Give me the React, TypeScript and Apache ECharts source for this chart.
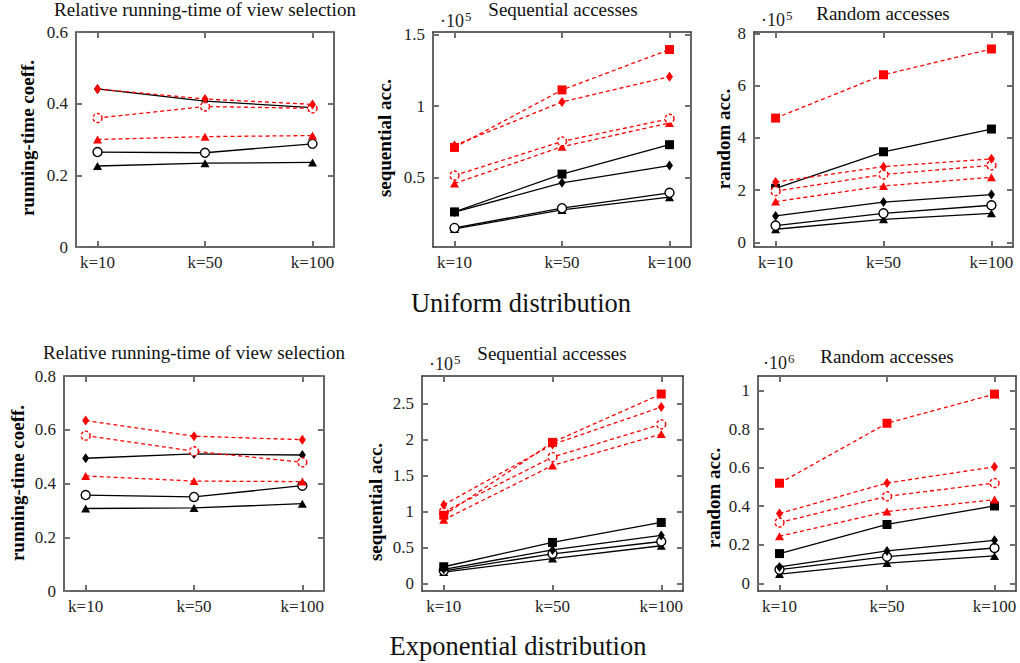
import React, { useEffect, useRef } from 'react';
import * as echarts from 'echarts';

const categories = ['k=10', 'k=50', 'k=100'];

// Uniform distribution – relative running time
const uRunBlackDiamond = [0.441, 0.407, 0.389];
const uRunBlackCircle = [0.265, 0.263, 0.288];
const uRunBlackTriangle = [0.226, 0.234, 0.236];
const uRunRedDiamond = [0.441, 0.413, 0.398];
const uRunRedCircle = [0.36, 0.392, 0.387];
const uRunRedTriangle = [0.3, 0.308, 0.311];
const uRunTicks = [0, 0.2, 0.4, 0.6];

// Uniform distribution – sequential accesses (x10^5)
const uSeqBlackSquare = [0.259, 0.524, 0.73];
const uSeqBlackDiamond = [0.257, 0.463, 0.584];
const uSeqBlackCircle = [0.147, 0.285, 0.393];
const uSeqBlackTriangle = [0.14, 0.273, 0.362];
const uSeqRedSquare = [0.711, 1.114, 1.397];
const uSeqRedDiamond = [0.725, 1.03, 1.207];
const uSeqRedCircle = [0.514, 0.753, 0.912];
const uSeqRedTriangle = [0.458, 0.716, 0.882];
const uSeqTicks = [0.5, 1, 1.5];

// Uniform distribution – random accesses (x10^5)
const uRndBlackSquare = [2.07, 3.47, 4.34];
const uRndBlackDiamond = [1.01, 1.54, 1.83];
const uRndBlackCircle = [0.64, 1.11, 1.42];
const uRndBlackTriangle = [0.5, 0.88, 1.11];
const uRndRedSquare = [4.76, 6.42, 7.41];
const uRndRedDiamond = [2.31, 2.9, 3.2];
const uRndRedCircle = [1.96, 2.6, 2.95];
const uRndRedTriangle = [1.56, 2.16, 2.49];
const uRndTicks = [0, 2, 4, 6, 8];

// Exponential distribution – relative running time
const eRunBlackDiamond = [0.494, 0.51, 0.506];
const eRunBlackCircle = [0.357, 0.35, 0.392];
const eRunBlackTriangle = [0.307, 0.309, 0.325];
const eRunRedDiamond = [0.634, 0.576, 0.563];
const eRunRedCircle = [0.578, 0.52, 0.479];
const eRunRedTriangle = [0.428, 0.409, 0.407];
const eRunTicks = [0, 0.2, 0.4, 0.6, 0.8];

// Exponential distribution – sequential accesses (x10^5)
const eSeqBlackSquare = [0.236, 0.573, 0.85];
const eSeqBlackDiamond = [0.2, 0.47, 0.67];
const eSeqBlackCircle = [0.18, 0.416, 0.586];
const eSeqBlackTriangle = [0.162, 0.35, 0.527];
const eSeqRedSquare = [0.95, 1.96, 2.63];
const eSeqRedDiamond = [1.095, 1.93, 2.45];
const eSeqRedCircle = [0.995, 1.756, 2.21];
const eSeqRedTriangle = [0.887, 1.64, 2.075];
const eSeqTicks = [0, 0.5, 1, 1.5, 2, 2.5];

// Exponential distribution – random accesses (x10^6)
const eRndBlackSquare = [0.154, 0.305, 0.401];
const eRndBlackDiamond = [0.085, 0.168, 0.223];
const eRndBlackCircle = [0.071, 0.138, 0.183];
const eRndBlackTriangle = [0.048, 0.105, 0.142];
const eRndRedSquare = [0.519, 0.83, 0.981];
const eRndRedDiamond = [0.362, 0.52, 0.604];
const eRndRedCircle = [0.315, 0.451, 0.52];
const eRndRedTriangle = [0.244, 0.372, 0.434];
const eRndTicks = [0, 0.2, 0.4, 0.6, 0.8, 1];

const FONT = 'Liberation Serif';
const RED = '#ff0000';
const BLACK = '#000000';

type SeriesDef = { values: number[]; shape: 'square' | 'diamond' | 'circle' | 'triangle'; red: boolean };

type Panel = {
  grid: { left: number; top: number; width: number; height: number };
  yMin: number;
  yMax: number;
  ticks: number[];
  title: string;
  titleX: number;
  titleY: number;
  yName: string;
  yNameX: number;
  yNameY: number;
  exp?: string;
  expX?: number;
  expY?: number;
  series: SeriesDef[];
};

const sd = (values: number[], shape: SeriesDef['shape'], red: boolean): SeriesDef => ({ values, shape, red });

const panels: Panel[] = [
  {
    grid: { left: 76, top: 32, width: 258, height: 215 },
    yMin: 0, yMax: 0.6, ticks: uRunTicks,
    title: 'Relative running-time of view selection', titleX: 205, titleY: 9,
    yName: 'running-time coeff.', yNameX: 27, yNameY: 138,
    series: [
      sd(uRunBlackTriangle, 'triangle', false), sd(uRunBlackCircle, 'circle', false), sd(uRunBlackDiamond, 'diamond', false),
      sd(uRunRedTriangle, 'triangle', true), sd(uRunRedCircle, 'circle', true), sd(uRunRedDiamond, 'diamond', true),
    ],
  },
  {
    grid: { left: 433, top: 32, width: 258, height: 215 },
    yMin: 0.013, yMax: 1.52, ticks: uSeqTicks,
    title: 'Sequential accesses', titleX: 563, titleY: 9,
    yName: 'sequential acc.', yNameX: 384, yNameY: 138,
    exp: '5', expX: 440, expY: 20,
    series: [
      sd(uSeqBlackTriangle, 'triangle', false), sd(uSeqBlackCircle, 'circle', false), sd(uSeqBlackDiamond, 'diamond', false), sd(uSeqBlackSquare, 'square', false),
      sd(uSeqRedTriangle, 'triangle', true), sd(uSeqRedCircle, 'circle', true), sd(uSeqRedDiamond, 'diamond', true), sd(uSeqRedSquare, 'square', true),
    ],
  },
  {
    grid: { left: 754, top: 32, width: 259, height: 215 },
    yMin: -0.18, yMax: 8.06, ticks: uRndTicks,
    title: 'Random accesses', titleX: 883, titleY: 13,
    yName: 'random acc.', yNameX: 723, yNameY: 139,
    exp: '5', expX: 761, expY: 19,
    series: [
      sd(uRndBlackTriangle, 'triangle', false), sd(uRndBlackCircle, 'circle', false), sd(uRndBlackDiamond, 'diamond', false),
      sd(uRndRedTriangle, 'triangle', true), sd(uRndRedCircle, 'circle', true), sd(uRndRedDiamond, 'diamond', true), sd(uRndRedSquare, 'square', true),
      sd(uRndBlackSquare, 'square', false),
    ],
  },
  {
    grid: { left: 64, top: 376, width: 260, height: 215 },
    yMin: 0, yMax: 0.8, ticks: eRunTicks,
    title: 'Relative running-time of view selection', titleX: 194, titleY: 352,
    yName: 'running-time coeff.', yNameX: 17, yNameY: 483,
    series: [
      sd(eRunBlackTriangle, 'triangle', false), sd(eRunBlackCircle, 'circle', false),
      sd(eRunRedTriangle, 'triangle', true), sd(eRunRedCircle, 'circle', true), sd(eRunRedDiamond, 'diamond', true),
      sd(eRunBlackDiamond, 'diamond', false),
    ],
  },
  {
    grid: { left: 422, top: 376, width: 261, height: 215 },
    yMin: -0.1, yMax: 2.88, ticks: eSeqTicks,
    title: 'Sequential accesses', titleX: 552, titleY: 353,
    yName: 'sequential acc.', yNameX: 375, yNameY: 502,
    exp: '5', expX: 429, expY: 363,
    series: [
      sd(eSeqBlackTriangle, 'triangle', false), sd(eSeqBlackCircle, 'circle', false), sd(eSeqBlackDiamond, 'diamond', false), sd(eSeqBlackSquare, 'square', false),
      sd(eSeqRedTriangle, 'triangle', true), sd(eSeqRedCircle, 'circle', true), sd(eSeqRedDiamond, 'diamond', true), sd(eSeqRedSquare, 'square', true),
    ],
  },
  {
    grid: { left: 758, top: 376, width: 258, height: 215 },
    yMin: -0.04, yMax: 1.075, ticks: eRndTicks,
    title: 'Random accesses', titleX: 887, titleY: 356,
    yName: 'random acc.', yNameX: 713, yNameY: 498,
    exp: '6', expX: 763, expY: 362,
    series: [
      sd(eRndBlackTriangle, 'triangle', false), sd(eRndBlackCircle, 'circle', false), sd(eRndBlackDiamond, 'diamond', false), sd(eRndBlackSquare, 'square', false),
      sd(eRndRedTriangle, 'triangle', true), sd(eRndRedCircle, 'circle', true), sd(eRndRedDiamond, 'diamond', true), sd(eRndRedSquare, 'square', true),
    ],
  },
];

const X_MIN = -0.2;
const X_MAX = 2.2;
const xIdx = categories.map((_, i) => i);

const fmt = (v: number) => String(Math.round(v * 100) / 100);

function symbolFor(shape: SeriesDef['shape']): { symbol: string; size: number | number[] } {
  switch (shape) {
    case 'square':
      return { symbol: 'rect', size: 9 };
    case 'diamond':
      return { symbol: 'diamond', size: [7, 10] };
    case 'circle':
      return { symbol: 'circle', size: 9 };
    default:
      return { symbol: 'triangle', size: [9, 8] };
  }
}

function buildOption() {
  const grid: any[] = [];
  const xAxis: any[] = [];
  const yAxis: any[] = [];
  const series: any[] = [];
  const graphic: any[] = [];

  const tickStyle = { show: true, lineStyle: { color: '#6e6e6e', width: 2 }, length: 6, inside: true };
  const lineStyle = { show: true, onZero: false, lineStyle: { color: '#333', width: 1.5 } };

  panels.forEach((p, gi) => {
    grid.push({ ...p.grid, show: false, containLabel: false });
    const xCommon = {
      type: 'value', gridIndex: gi, min: X_MIN, max: X_MAX,
      splitLine: { show: false }, axisLine: lineStyle,
      axisTick: { ...tickStyle, customValues: xIdx },
    };
    xAxis.push({
      ...xCommon, position: 'bottom',
      axisLabel: {
        customValues: xIdx, margin: 7, color: '#222', fontFamily: FONT, fontSize: 17,
        formatter: (v: number) => categories[Math.round(v)] ?? '',
      },
    });
    xAxis.push({ ...xCommon, position: 'top', axisLabel: { show: false } });
    const yCommon = {
      type: 'value', gridIndex: gi, min: p.yMin, max: p.yMax,
      splitLine: { show: false }, axisLine: lineStyle,
      axisTick: { ...tickStyle, customValues: p.ticks },
    };
    yAxis.push({
      ...yCommon, position: 'left',
      axisLabel: { customValues: p.ticks, margin: 8, color: '#222', fontFamily: FONT, fontSize: 17, formatter: fmt },
    });
    yAxis.push({ ...yCommon, position: 'right', axisLabel: { show: false } });

    p.series.forEach((s) => {
      const { symbol, size } = symbolFor(s.shape);
      const color = s.red ? RED : BLACK;
      const open = s.shape === 'circle';
      series.push({
        type: 'line',
        xAxisIndex: gi * 2,
        yAxisIndex: gi * 2,
        data: s.values.map((v, i) => [xIdx[i], v]),
        symbol,
        symbolSize: size,
        showSymbol: true,
        z: s.red ? 3 : 2,
        lineStyle: { color, width: 1.3, type: s.red ? [4, 3] : 'solid' },
        itemStyle: open
          ? { color: '#ffffff', borderColor: color, borderWidth: 1.4, borderType: s.red ? [3, 2] : 'solid' }
          : { color, borderColor: color, borderWidth: 0 },
        emphasis: { disabled: true },
      });
    });

    graphic.push({
      type: 'text', x: p.titleX, y: p.titleY,
      style: { text: p.title, fontFamily: FONT, fontSize: 19, fill: '#111', align: 'center', verticalAlign: 'middle' },
    });
    graphic.push({
      type: 'text', x: p.yNameX, y: p.yNameY, rotation: Math.PI / 2,
      style: { text: p.yName, fontFamily: FONT, fontSize: 19, fontWeight: 'bold', fill: '#000', align: 'center', verticalAlign: 'middle' },
    });
    if (p.exp) {
      graphic.push({
        type: 'text', x: p.expX, y: p.expY,
        style: {
          text: '{a|·10}{b|' + p.exp + '}',
          fontFamily: FONT,
          verticalAlign: 'middle',
          align: 'left',
          rich: {
            a: { fontFamily: FONT, fontSize: 18, fill: '#222', lineHeight: 20, verticalAlign: 'bottom' },
            b: { fontFamily: FONT, fontSize: 13, fill: '#222', lineHeight: 20, verticalAlign: 'top', padding: [0, 0, 8, 1] },
          },
        },
      });
    }
  });

  graphic.push({
    type: 'text', x: 521, y: 303,
    style: { text: 'Uniform distribution', fontFamily: FONT, fontSize: 26.5, fill: '#111', align: 'center', verticalAlign: 'middle' },
  });
  graphic.push({
    type: 'text', x: 518, y: 646,
    style: { text: 'Exponential distribution', fontFamily: FONT, fontSize: 26.5, fill: '#111', align: 'center', verticalAlign: 'middle' },
  });

  return {
    animation: false,
    backgroundColor: '#ffffff',
    textStyle: { fontFamily: FONT },
    grid, xAxis, yAxis, series, graphic,
  };
}

export default function App() {
  const ref = useRef<HTMLDivElement | null>(null);
  useEffect(() => {
    if (!ref.current) return;
    const chart = echarts.init(ref.current, undefined, { renderer: 'svg' });
    chart.setOption(buildOption() as any);
    return () => chart.dispose();
  }, []);
  return (
    <div
      ref={ref}
      style={{ position: 'fixed', left: 0, top: 0, width: 1020, height: 663, background: '#fff' }}
    />
  );
}
